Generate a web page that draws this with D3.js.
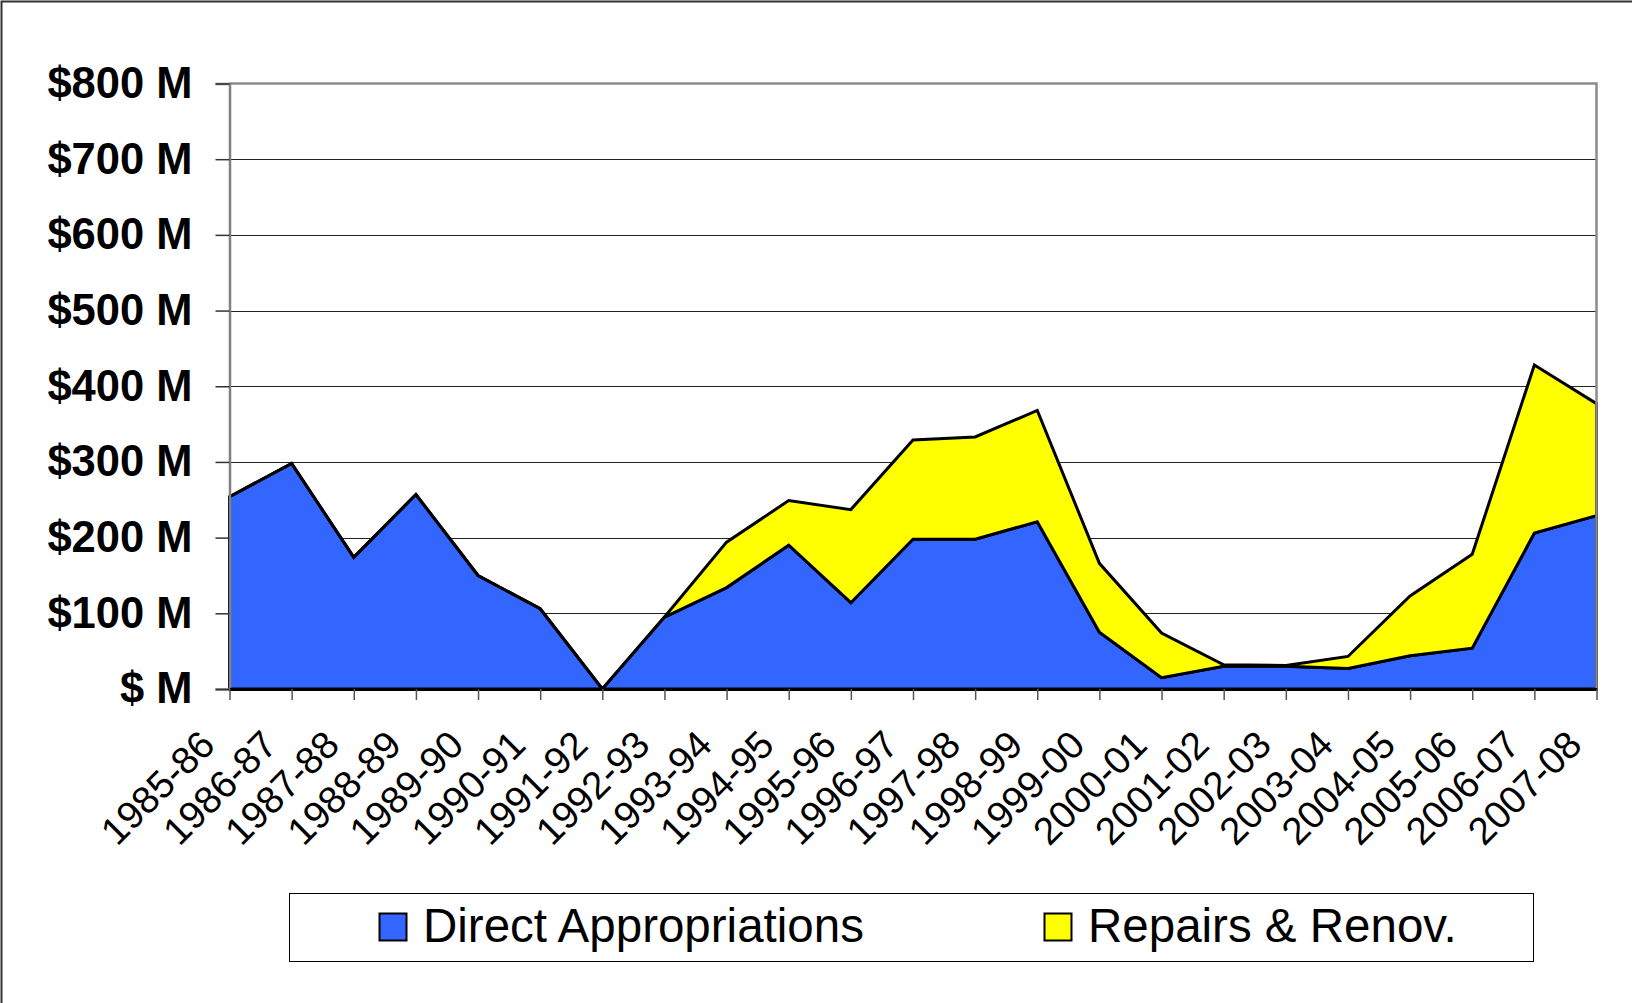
<!DOCTYPE html>
<html>
<head>
<meta charset="utf-8">
<script src="https://cdn.jsdelivr.net/npm/d3@7"></script>
<style>
    html, body { margin: 0; padding: 0; background: #ffffff; }
    svg { display: block; }
</style>
</head>
<body>
<script>
// 数据
const years = ['1985-86', '1986-87', '1987-88', '1988-89', '1989-90', '1990-91', '1991-92',
    '1992-93', '1993-94', '1994-95', '1995-96', '1996-97', '1997-98', '1998-99', '1999-00',
    '2000-01', '2001-02', '2002-03', '2003-04', '2004-05', '2005-06', '2006-07', '2007-08'];
const directAppropriations = [254, 298, 174, 257, 150, 106, 0, 95, 134, 190, 114, 198, 198,
    221, 75, 15, 30, 30, 27, 44, 54, 206, 229];
const repairsRenov = [0, 0, 0, 0, 0, 0, 0, 0, 60, 59, 123, 131, 135, 147, 91, 59, 2, 1, 16,
    79, 124, 222, 148];
const yTicks = [0, 100, 200, 300, 400, 500, 600, 700, 800];
const seriesNames = ['Direct Appropriations', 'Repairs & Renov.'];
const seriesColors = ['#3366ff', '#ffff00'];

const width = 1632, height = 1003;
const plot = {left: 229.5, right: 1596.5, top: 83.5, bottom: 689};

const svg = d3.select('body')
    .append('svg')
    .attr('width', width)
    .attr('height', height)
    .style('font-family', '"Liberation Sans", Arial, sans-serif');

// 比例尺
const x = d3.scalePoint().domain(years).range([plot.left, plot.right]);
const y = d3.scaleLinear().domain([0, 800]).range([plot.bottom, plot.top]);

// 外框（只见左、上边）
svg.append('path')
    .attr('d', `M1.5,${height} L1.5,1.5 L${width},1.5`)
    .attr('fill', 'none')
    .attr('stroke', '#333333')
    .attr('stroke-width', 2);

// 网格线
svg.append('g')
    .selectAll('line')
    .data(yTicks.filter(d => d > 0 && d < 800))
    .enter()
    .append('line')
    .attr('x1', plot.left)
    .attr('x2', plot.right)
    .attr('y1', d => Math.round(y(d)) + 0.5)
    .attr('y2', d => Math.round(y(d)) + 0.5)
    .attr('stroke', '#222222')
    .attr('stroke-width', 1);

// 堆叠面积
const table = years.map((yr, i) => ({year: yr, direct: directAppropriations[i], repairs: repairsRenov[i]}));
const stacked = d3.stack().keys(['direct', 'repairs'])(table);
const area = d3.area()
    .x(d => x(d.data.year))
    .y0(d => y(d[0]))
    .y1(d => y(d[1]));

// 绘制区域边框（闭合多边形）
const outline = layer => {
    const top = layer.map(d => [x(d.data.year), y(d[1])]);
    const bottom = layer.map(d => [x(d.data.year), y(d[0])]).reverse();
    return 'M' + top.concat(bottom).join('L') + 'Z';
};

svg.append('g')
    .selectAll('path')
    .data(stacked)
    .enter()
    .append('path')
    .attr('d', (d, i) => i === 0 ? area(d) : outline(d))
    .attr('fill', (d, i) => seriesColors[i])
    .attr('stroke', '#000000')
    .attr('stroke-width', 3)
    .attr('stroke-linejoin', 'miter');

// 绘图区边框（上、右为灰色）
svg.append('path')
    .attr('d', `M${plot.left},${plot.top} L${plot.right},${plot.top} L${plot.right},${plot.bottom}`)
    .attr('fill', 'none')
    .attr('stroke', '#8c8c8c')
    .attr('stroke-width', 2.5);

// y 轴
const yAxis = svg.append('g')
    .attr('transform', `translate(${plot.left},0)`)
    .call(d3.axisLeft(y)
        .tickValues(yTicks)
        .tickSize(14)
        .tickPadding(23)
        .tickFormat(d => d === 0 ? '$ M' : `$${d} M`));
yAxis.select('.domain')
    .attr('stroke', '#808080')
    .attr('stroke-width', 2.5);
yAxis.selectAll('.tick line')
    .attr('stroke', '#333333')
    .attr('stroke-width', 1.5);
yAxis.selectAll('.tick text')
    .attr('fill', '#000000')
    .style('font-size', '43.5px')
    .style('font-weight', 'bold')
    .style('font-family', '"Liberation Sans", Arial, sans-serif');

// x 轴
const xAxis = svg.append('g')
    .attr('transform', `translate(0,${plot.bottom})`)
    .call(d3.axisBottom(x).tickSize(11).tickSizeOuter(0));
xAxis.select('.domain')
    .attr('stroke', '#000000')
    .attr('stroke-width', 3);
xAxis.selectAll('.tick line')
    .attr('stroke', '#555555')
    .attr('stroke-width', 1.5);
xAxis.selectAll('.tick text')
    .attr('x', 0)
    .attr('y', 0)
    .attr('dy', null)
    .attr('text-anchor', 'end')
    .attr('transform', 'translate(-13,58) rotate(-45)')
    .attr('fill', '#000000')
    .style('font-size', '38.5px')
    .style('font-family', '"Liberation Sans", Arial, sans-serif');

// 图例
const legend = svg.append('g');
legend.append('rect')
    .attr('x', 289.5)
    .attr('y', 893.5)
    .attr('width', 1244)
    .attr('height', 68)
    .attr('fill', '#ffffff')
    .attr('stroke', '#000000')
    .attr('stroke-width', 1);
const legendPos = [379, 1044];
const legendItems = legend.selectAll('g.item')
    .data(seriesNames)
    .enter()
    .append('g')
    .attr('class', 'item')
    .attr('transform', (d, i) => `translate(${legendPos[i]},0)`);
legendItems.append('rect')
    .attr('x', 0.5)
    .attr('y', 913.5)
    .attr('width', 27)
    .attr('height', 27)
    .attr('fill', (d, i) => seriesColors[i])
    .attr('stroke', '#000000')
    .attr('stroke-width', 2);
legendItems.append('text')
    .attr('x', 44)
    .attr('y', 942)
    .attr('fill', '#000000')
    .style('font-size', '47.5px')
    .text(d => d);
</script>
</body>
</html>
